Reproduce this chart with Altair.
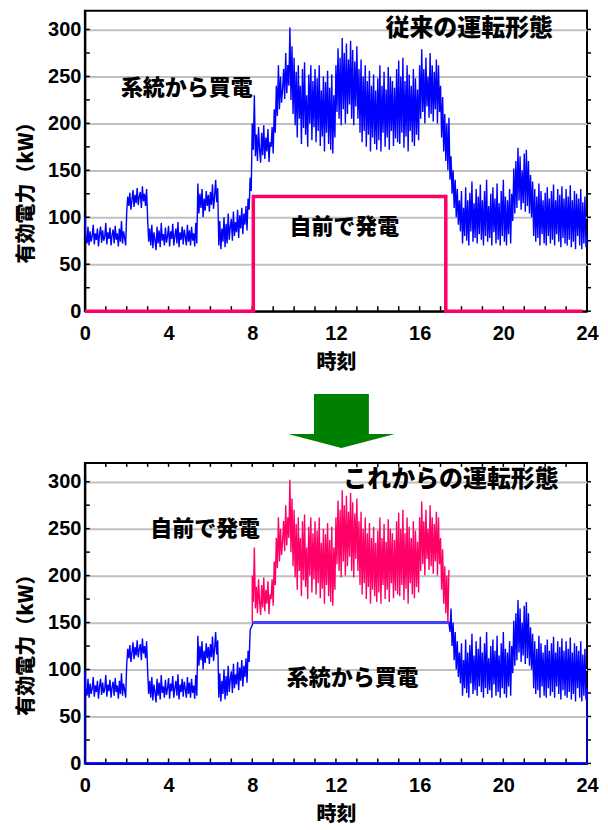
import altair as alt
import pandas as pd

# ---------------- data ----------------
# total load, kW, every 0.05 h from 0.00 to 24.00 (20 readings per hour)
load_kw = [
    # 0 h
    100, 78, 72, 90, 70, 85, 74, 80, 92, 71, 83, 76, 88, 69, 82, 90, 73, 86, 75, 79,
    # 1 h
    94, 71, 84, 77, 89, 70, 81, 87, 72, 91, 76, 83, 69, 88, 74, 96, 72, 85, 78, 70,
    # 2 h
    106, 122, 112, 126, 108, 118, 129, 111, 124, 115, 131, 113, 122, 127, 110, 133, 117, 125, 112, 130,
    # 3 h
    98, 74, 88, 70, 92, 67, 84, 76, 65, 90, 72, 86, 68, 94, 75, 82, 70, 89, 73, 80,
    # 4 h
    91, 69, 85, 77, 93, 70, 80, 88, 72, 95, 68, 84, 76, 90, 71, 87, 79, 70, 92, 74,
    # 5 h
    86, 70, 90, 75, 83, 69, 94, 72, 136, 104, 125, 110, 130, 100, 120, 107, 128, 112, 124, 106,
    # 6 h
    127, 113, 135, 109, 122, 140, 116, 131, 70, 96, 66, 88, 74, 100, 68, 93, 72, 104, 76, 90,
    # 7 h
    98, 75, 106, 80, 95, 84, 108, 78, 102, 88, 110, 82, 104, 92, 112, 86, 120, 108, 142, 128,
    # 8 h
    200, 172, 230, 165, 188, 160, 196, 172, 158, 190, 166, 198, 162, 185, 170, 194, 159, 180, 175, 196,
    # 9 h
    168, 215, 190, 240, 208, 262, 215, 250, 222, 236, 258, 226, 275, 232, 262, 240, 302, 225, 282, 210,
    # 10 h
    270, 198, 255, 185, 262, 205, 240, 178, 258, 195, 265, 188, 230, 175, 252, 200, 262, 182, 245, 196,
    # 11 h
    258, 180, 248, 192, 262, 176, 235, 186, 250, 170, 244, 190, 256, 178, 238, 172, 252, 168, 230, 185,
    # 12 h
    262, 212, 280, 205, 270, 198, 291, 215, 275, 200, 285, 210, 268, 220, 288, 205, 278, 198, 266, 218,
    # 13 h
    282, 205, 258, 190, 268, 180, 250, 192, 262, 175, 245, 188, 256, 170, 240, 185, 252, 178, 235, 172,
    # 14 h
    248, 182, 262, 170, 240, 190, 255, 175, 236, 185, 260, 172, 250, 192, 245, 176, 238, 184, 258, 180,
    # 15 h
    267, 178, 250, 190, 270, 174, 245, 186, 262, 170, 252, 192, 240, 180, 258, 176, 248, 188, 236, 182,
    # 16 h
    262, 205, 279, 212, 258, 200, 270, 218, 250, 206, 275, 210, 262, 202, 255, 215, 268, 200, 262, 212,
    # 17 h
    240, 185, 228, 170, 210, 160, 200, 150, 206, 140, 165, 125, 150, 110, 140, 100, 130, 92, 118, 85,
    # 18 h
    128, 72, 110, 80, 132, 75, 118, 70, 126, 85, 138, 74, 115, 78, 130, 72, 122, 82, 135, 76,
    # 19 h
    118, 70, 128, 80, 140, 74, 112, 78, 125, 70, 132, 84, 120, 72, 136, 76, 115, 70, 128, 80,
    # 20 h
    140, 74, 122, 70, 118, 82, 130, 72, 125, 96, 152, 104, 160, 110, 174, 118, 165, 108, 150, 115,
    # 21 h
    168, 106, 172, 112, 160, 104, 145, 100, 138, 80, 130, 74, 122, 78, 136, 70, 128, 82, 118, 72,
    # 22 h
    126, 70, 132, 80, 120, 72, 128, 76, 135, 70, 118, 82, 130, 74, 124, 68, 133, 78, 120, 72,
    # 23 h
    130, 70, 122, 76, 134, 68, 118, 74, 128, 66, 125, 80, 120, 70, 130, 66, 116, 72, 122, 68,
    # 24 h
    80,
]
hours = [i / 20 for i in range(len(load_kw))]

# conventional mode: own generation (step)
gen_hours = [0.0, 8.05, 8.05, 17.25, 17.25, 23.8]
gen_kw = [0, 0, 122, 122, 0, 0]

# new mode: purchase capped at 150 kW during generation hours
cap_kw = 150
cap_start, cap_end = 8.05, 17.4
red_start, red_end = 8.0, 17.4

x_tick_labels = [0, 4, 8, 12, 16, 20, 24]
y_tick_labels = [0, 50, 100, 150, 200, 250, 300]
x_minor = list(range(0, 25))
y_minor = list(range(0, 301, 25))

top_notes = pd.DataFrame({
    "h": [18.37, 4.87, 12.4],
    "v": [301, 238, 90],
    "t": ["従来の運転形態", "系統から買電", "自前で発電"],
    "s": [24, 22, 22],
})
bot_notes = pd.DataFrame({
    "h": [17.5, 5.75, 12.8],
    "v": [302, 250, 91],
    "t": ["これからの運転形態", "自前で発電", "系統から買電"],
    "s": [24, 22, 22],
})

BLUE = "#0000ff"
PINK = "#ff0066"
CAP_BLUE = "#4040ff"
CJK = "Noto Sans CJK JP"
LAT = "Liberation Sans"

W1, H1 = 503, 301
W2, H2 = 503, 301

xs = alt.Scale(domain=[0, 24], nice=False, zero=False)
ys = alt.Scale(domain=[0, 320], nice=False)


def x_axis():
    return alt.Axis(values=x_tick_labels, title="時刻", ticks=False, grid=False,
                    labelFont=LAT, labelFontSize=20, labelFontWeight="bold",
                    labelColor="black", labelPadding=12, labelFlush=False,
                    titleFont=CJK, titleFontSize=20, titleFontWeight=900,
                    titleColor="black", titlePadding=9,
                    domainColor="black", domainWidth=2)


def y_axis():
    return alt.Axis(values=y_tick_labels, title="有効電力（kW）", ticks=False,
                    grid=True, gridColor="#c0c0c0", gridWidth=2,
                    labelFont=LAT, labelFontSize=20, labelFontWeight="bold",
                    labelColor="black", labelPadding=4,
                    titleFont=CJK, titleFontSize=20, titleFontWeight=900,
                    titleColor="black", titleAngle=270, titleX=-58, titleY=177,
                    titleAlign="center", titleBaseline="middle",
                    domainColor="black", domainWidth=2)


def X():
    return alt.X("h:Q", scale=xs, axis=x_axis())


def Y():
    return alt.Y("v:Q", scale=ys, axis=y_axis())


def tick_layers(W, H, top_ticks):
    xt = pd.DataFrame({"h": x_minor})
    yt = pd.DataFrame({"v": y_minor})
    layers = [
        alt.Chart(xt).mark_rule(color="black", strokeWidth=1.5).encode(
            x=X(), y=alt.value(H), y2=alt.value(H - 5)),
        alt.Chart(yt).mark_rule(color="black", strokeWidth=1.5).encode(
            y=Y(), x=alt.value(0), x2=alt.value(5)),
        alt.Chart(yt).mark_rule(color="black", strokeWidth=1.5).encode(
            y=Y(), x=alt.value(W), x2=alt.value(W + 4)),
    ]
    if top_ticks:
        layers.append(alt.Chart(xt).mark_rule(color="black", strokeWidth=1.5).encode(
            x=X(), y=alt.value(0), y2=alt.value(4)))
    return layers


def notes_layer(df):
    return alt.Chart(df).mark_text(font=CJK, fontWeight=900, color="black",
                                   align="center", baseline="middle").encode(
        x=X(), y=Y(), text="t:N", size=alt.Size("s:Q", scale=None, legend=None))


# ---------------- top panel ----------------
load_df = pd.DataFrame({"h": hours, "v": load_kw, "o": range(len(hours))})
gen_df = pd.DataFrame({"h": gen_hours, "v": gen_kw, "o": range(len(gen_hours))})

top = alt.layer(
    *tick_layers(W1, H1, False),
    alt.Chart(load_df).mark_line(color=BLUE, strokeWidth=1.4).encode(
        x=X(), y=Y(), order="o:Q"),
    alt.Chart(gen_df).mark_line(color=PINK, strokeWidth=3.5).encode(
        x=X(), y=Y(), order="o:Q"),
    notes_layer(top_notes),
).properties(width=W1, height=H1)

# ---------------- arrow ----------------
arrow_path = ("M -0.514 -0.505 L 0.514 -0.505 L 0.514 0.243 L 1 0.243 "
              "L 0 0.505 L -1 0.243 L -0.514 0.243 Z")
arrow = alt.Chart(pd.DataFrame({"a": [1]})).mark_point(
    shape=arrow_path, filled=True, color="#008000", opacity=1, size=11449,
    strokeWidth=0).encode(
    x=alt.value(257), y=alt.value(40)
).properties(width=W1, height=72, view=alt.ViewBackground(strokeOpacity=0))

# ---------------- bottom panel ----------------
b_h, b_v = [0.0], [0]
for h, v in zip(hours, load_kw):
    if h < 7.95:
        b_h.append(h); b_v.append(v)
b_h += [cap_start, cap_end]; b_v += [cap_kw, cap_kw]
for h, v in zip(hours, load_kw):
    if h > 17.42:
        b_h.append(h); b_v.append(v)
b_h.append(24.0); b_v.append(0)
blue_df = pd.DataFrame({"h": b_h, "v": b_v, "o": range(len(b_h))})

r_h, r_v = [red_start], [cap_kw]
for h, v in zip(hours, load_kw):
    if red_start - 0.01 <= h <= red_end + 0.01:
        r_h.append(h); r_v.append(v)
red_df = pd.DataFrame({"h": r_h, "v": r_v, "o": range(len(r_h))})

base_df = pd.DataFrame({"h": [0.0, 24.0], "v": [0, 0], "o": [0, 1]})
cap_df = pd.DataFrame({"h": [cap_start, cap_end], "v": [cap_kw, cap_kw], "o": [0, 1]})

bottom = alt.layer(
    *tick_layers(W2, H2, True),
    alt.Chart(blue_df).mark_line(color=BLUE, strokeWidth=1.4).encode(
        x=X(), y=Y(), order="o:Q"),
    alt.Chart(cap_df).mark_line(color=CAP_BLUE, strokeWidth=3).encode(
        x=X(), y=Y(), order="o:Q"),
    alt.Chart(base_df).mark_line(color=BLUE, strokeWidth=2.5).encode(
        x=X(), y=Y(), order="o:Q"),
    alt.Chart(red_df).mark_line(color=PINK, strokeWidth=1.4).encode(
        x=X(), y=Y(), order="o:Q"),
    notes_layer(bot_notes),
).properties(width=W2, height=H2)

chart = alt.vconcat(top, arrow, bottom, spacing=8).properties(
    padding={"left": 8, "top": 1, "right": 0, "bottom": 0},
    background="white",
).configure_view(stroke="black", strokeWidth=2)

chart.save("out.html", embed_options={"renderer": "svg", "actions": False})
